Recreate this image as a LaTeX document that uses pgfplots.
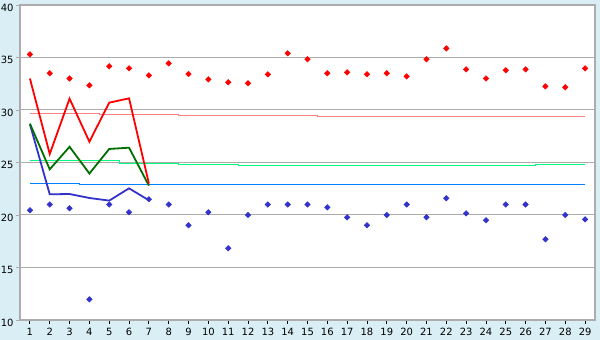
\documentclass[border=0pt]{standalone}
\usepackage{pgfplots}
\pgfplotsset{compat=1.18}
\usepackage{fontspec}
\setmainfont{DejaVu Sans}
\definecolor{bgblue}{RGB}{218,238,245}
\definecolor{gridgray}{RGB}{172,172,172}
\definecolor{salmon}{RGB}{255,128,128}
\definecolor{spring}{RGB}{0,250,128}
\definecolor{refblue}{RGB}{0,128,255}
\definecolor{dgreen}{RGB}{0,110,0}
\definecolor{ptblue}{RGB}{51,51,204}
\begin{document}
\begin{tikzpicture}
\useasboundingbox (-20bp,-20bp) rectangle (580bp,320bp);
\fill[bgblue] (-20bp,-20bp) rectangle (580bp,320bp);
\begin{axis}[at={(0,0)}, anchor=south west, scale only axis,
  width=575bp, height=315bp,
  xmin=0.5, xmax=29.5, ymin=10, ymax=40,
  xtick={1,...,29}, ytick={10,15,...,40},
  axis background/.style={fill=white},
  axis line style={gridgray, line width=1.2bp},
  ymajorgrids, major grid style={gridgray, line width=1bp},
  tick align=outside, tick pos=left,
  major tick length=4bp,
  xtick style={black, line width=0.9bp},
  ytick style={gridgray, line width=0.9bp},
  ticklabel style={font=\fontsize{10}{12}\selectfont},
  yticklabel style={anchor=east, xshift=1bp, yshift=-2.5bp},
  xticklabel style={yshift=-1bp},
  /pgf/number format/assume math mode=true,
]
% reference step lines
\addplot[salmon, line width=1.1bp] coordinates {(1,29.68) (4.5,29.68) (4.5,29.59) (8.5,29.59) (8.5,29.49) (15.5,29.49) (15.5,29.40) (29,29.40)};
\addplot[spring, line width=1.2bp] coordinates {(1,25.2) (5.5,25.2) (5.5,24.88) (8.5,24.88) (8.5,24.8) (11.5,24.8) (11.5,24.74) (26.5,24.74) (26.5,24.84) (29,24.84)};
\addplot[refblue, line width=1.1bp] coordinates {(1,23.02) (3.5,23.02) (3.5,22.92) (29,22.92)};
% max points
\addplot[only marks, mark=square*, mark size=1.9bp, color=red, mark options={rotate=45, line width=0.6bp}] coordinates {
(1,35.3) (2,33.5) (3,33.0) (4,32.35) (5,34.16) (6,33.97) (7,33.3) (8,34.44) (9,33.43)
(10,32.92) (11,32.64) (12,32.54) (13,33.4) (14,35.4) (15,34.83) (16,33.5) (17,33.59)
(18,33.4) (19,33.5) (20,33.2) (21,34.83) (22,35.87) (23,33.87) (24,33.0) (25,33.78)
(26,33.87) (27,32.25) (28,32.16) (29,33.97)};
% min points
\addplot[only marks, mark=square*, mark size=1.9bp, color=ptblue, mark options={rotate=45, line width=0.6bp}] coordinates {
(1,20.45) (2,21.0) (3,20.64) (4,11.97) (5,21.0) (6,20.26) (7,21.5) (8,21.0) (9,19.02)
(10,20.26) (11,16.83) (12,20.0) (13,21.0) (14,21.0) (15,21.0) (16,20.73) (17,19.78)
(18,19.02) (19,20.0) (20,21.0) (21,19.78) (22,21.59) (23,20.16) (24,19.5) (25,21.0)
(26,21.0) (27,17.69) (28,20.0) (29,19.59)};
% lines
\addplot[ptblue, line width=1.8bp] coordinates {(1,28.65) (2,21.97) (3,22.0) (4,21.62) (5,21.37) (6,22.54) (7,21.4)};
\addplot[dgreen, line width=1.8bp] coordinates {(1,28.7) (2,24.35) (3,26.5) (4,23.95) (5,26.29) (6,26.41) (7,22.8)};
\addplot[red, line width=1.8bp] coordinates {(1,33.0) (2,25.81) (3,31.08) (4,26.98) (5,30.7) (6,31.11) (7,23.0)};
\end{axis}
\end{tikzpicture}
\end{document}
